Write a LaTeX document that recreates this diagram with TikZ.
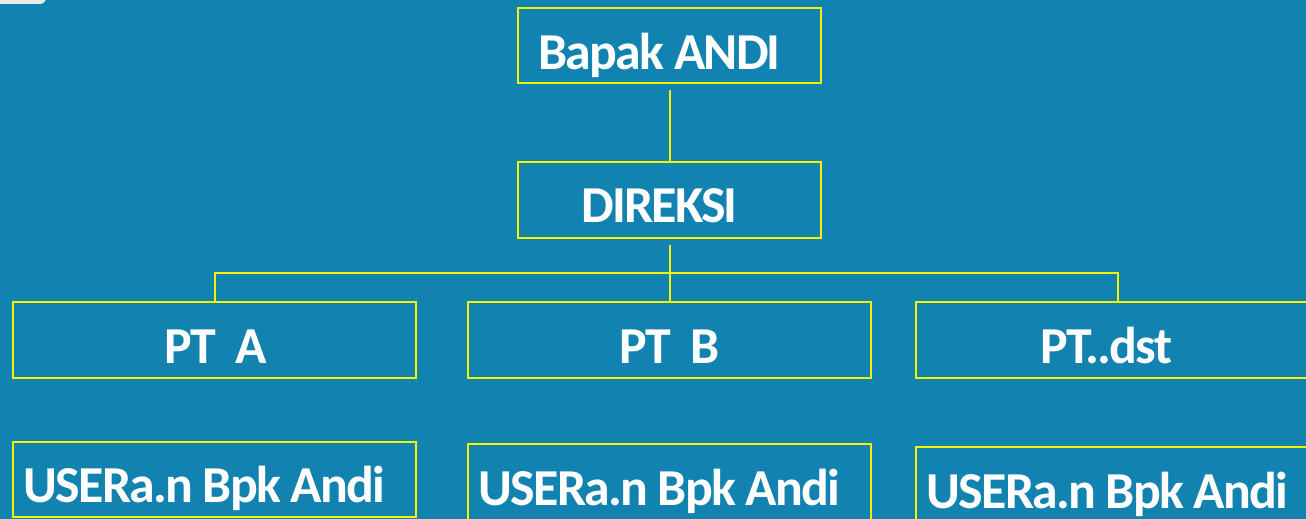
\documentclass[tikz,border=0pt]{standalone}
\usepackage{fontspec}
\setmainfont{Carlito}[LetterSpace=-3.5]
\usetikzlibrary{positioning}
\definecolor{bgblue}{HTML}{1283B0}
\definecolor{boxline}{HTML}{F4F400}
\definecolor{corner}{HTML}{E8E9EA}
\tikzset{
  caption/.style={%
    anchor=base, text=white, inner sep=0pt,
    font=\fontsize{29.5}{30}\selectfont\bfseries,
  },
  orgbox/.style={%
    draw=boxline, line width=0.04cm,
    minimum width=8.06cm, minimum height=1.52cm,
    inner sep=0pt,
  },
  headbox/.style={%
    orgbox,
    minimum width=6.06cm,
  },
  wire/.style={draw=boxline, line width=0.04cm},
}

\begin{document}
\begin{tikzpicture}[x=0.02cm,y=-0.02cm]
\useasboundingbox[fill=bgblue] (0,0) rectangle (1306,519);
\fill[corner,rounded corners=0.12cm] (-20,-20) rectangle (46,4);
% top
\node[headbox,minimum height=1.5cm] (owner) at (669.5,45.5) {};
\node[headbox] (direksi) at (669.5,200) {};
% companies
\node[orgbox] (pta) at (214.5,340) {};
\node[orgbox] (ptb) at (669.5,340) {};
\node[orgbox] (ptc) at (1117.5,340) {};
% users
\node[orgbox] (usera) at (214.5,479.5) {};
\node[orgbox] (userb) at (669.5,482) {};
\node[orgbox] (userc) at (1117.5,485) {};
% texts
\node[caption] (owner-t) at ([shift={(-10,24.5)}]owner.center) {Bapak ANDI};
\node[caption] (direksi-t) at ([shift={(-10,23)}]direksi.center) {DIREKSI};
\node[caption] (pta-t) at ([shift={(1.5,24)}]pta.center) {PT\ \ A};
\node[caption] (ptb-t) at ([shift={(0,24)}]ptb.center) {PT\ \ B};
\node[caption] (ptc-t) at ([shift={(-11,24)}]ptc.center) {PT..dst};
\node[caption] (usera-t) at ([shift={(-10,23.5)}]usera.center) {USERa.n Bpk Andi};
\node[caption] (userb-t) at ([shift={(-10,23.5)}]userb.center) {USERa.n Bpk Andi};
\node[caption] (userc-t) at ([shift={(-10,23.5)}]userc.center) {USERa.n Bpk Andi};
% connectors
\coordinate (bus) at (669.5,273);
\draw[wire] ([yshift=-0.12cm]owner.south) -- (direksi.north);
\draw[wire] ([yshift=-0.12cm]direksi.south) -- (bus);
\draw[wire] (pta.north) |- (bus) -| (ptc.north);
\draw[wire] (bus) -- (ptb.north);
\end{tikzpicture}
\end{document}
